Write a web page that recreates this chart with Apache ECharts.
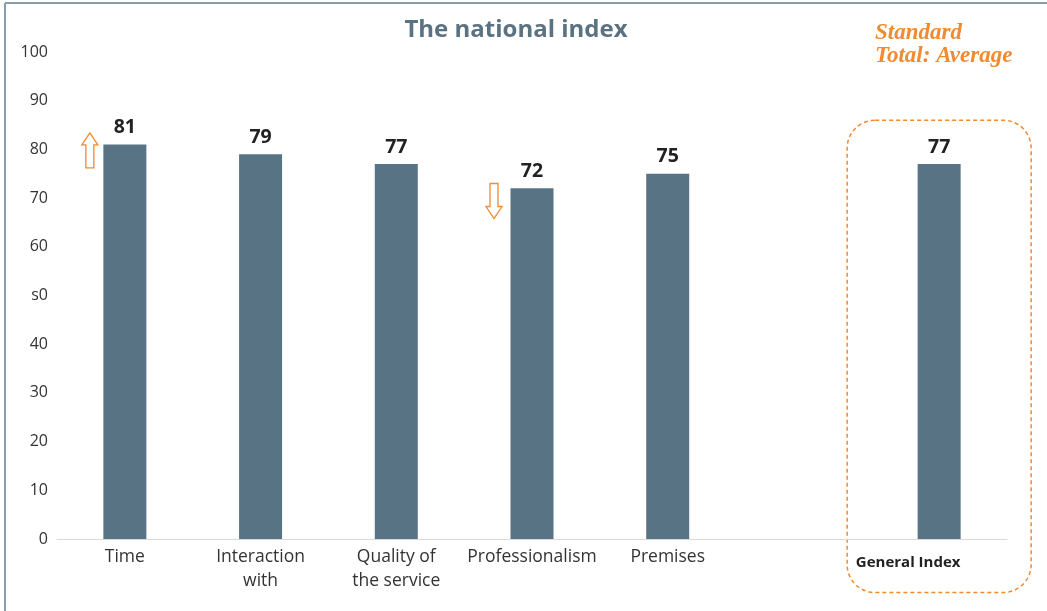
<!DOCTYPE html>
<html>
<head>
<meta charset="utf-8">
<script src="https://cdn.jsdelivr.net/npm/echarts@6/dist/echarts.min.js"></script>
<style>
  html, body { margin: 0; padding: 0; background: #fff; }
  #chart { width: 1047px; height: 611px; }
</style>
</head>
<body>
<div id="chart"></div>
<script>
const categories = ['Time', 'Interaction\nwith', 'Quality of\nthe service', 'Professionalism', 'Premises', '', 'General Index'];
const scores = [81, 79, 77, 72, 75, null, 77];
const tickLabels = ['0', '10', '20', '30', '40', 's0', '60', '70', '80', '90', '100'];
const legendLines = ['Standard', 'Total: Average'];

const BAR = '#587484';
const ORANGE = '#f28a2e';
const FONT = '"Open Sans", "Noto Sans", sans-serif';

const chart = echarts.init(document.getElementById('chart'));

chart.setOption({
  animation: false,
  backgroundColor: '#fff',
  title: {
    text: 'The national index',
    left: 511,
    top: 13,
    textAlign: 'center',
    textStyle: { fontFamily: FONT, fontSize: 24, fontWeight: 'bold', color: '#5b7282' }
  },
  grid: { left: 57, right: 40, top: 52, bottom: 72, containLabel: false },
  xAxis: {
    type: 'category',
    data: categories,
    axisLine: { lineStyle: { color: '#d9d9d9', width: 1 } },
    axisTick: { show: false },
    axisLabel: {
      interval: 0,
      margin: 6,
      color: '#333',
      fontFamily: FONT,
      fontSize: 17.5,
      lineHeight: 24,
      formatter: function (v) {
        return v === 'General Index' ? '{gi|' + v + '}' : v;
      },
      rich: {
        gi: { fontFamily: FONT, fontSize: 15, fontWeight: 'bold', color: '#222', padding: [12, 62, 0, 0] }
      }
    }
  },
  yAxis: {
    type: 'value',
    min: 0,
    max: 100,
    interval: 10,
    axisLine: { show: false },
    axisTick: { show: false },
    splitLine: { show: false },
    axisLabel: {
      margin: 9,
      color: '#333',
      fontFamily: FONT,
      fontSize: 16,
      formatter: function (v) { return tickLabels[Math.round(v / 10)]; }
    }
  },
  series: [{
    type: 'bar',
    data: scores,
    barWidth: 43,
    itemStyle: { color: BAR },
    label: {
      show: true,
      position: 'top',
      distance: 7,
      color: '#222',
      fontFamily: FONT,
      fontSize: 19.5,
      fontWeight: 'bold'
    }
  }]
});

// Hollow arrow outline, tip at top when dir = -1 (up), at bottom when dir = 1 (down)
function arrow(cx, cy, dir) {
  const h = 35, headH = 12, headW = 8, shaftW = 4;
  const tip = cy + dir * h / 2;
  const tail = cy - dir * h / 2;
  const neck = tip - dir * headH;
  return {
    type: 'polygon',
    shape: {
      points: [
        [cx, tip],
        [cx + headW, neck],
        [cx + shaftW, neck],
        [cx + shaftW, tail],
        [cx - shaftW, tail],
        [cx - shaftW, neck],
        [cx - headW, neck]
      ]
    },
    style: { fill: '#fff', stroke: ORANGE, lineWidth: 1.3 }
  };
}

function px(i, v) { return chart.convertToPixel({ gridIndex: 0 }, [i, v]); }

const upPos = px(0, 79.8);
const downPos = px(3, 69.4);
const boxTop = px(6, 86);
const boxBottom = px(6, -11);

chart.setOption({
  graphic: [
    // panel frame (top and left edges)
    { type: 'line', shape: { x1: 5, y1: 3, x2: 1047, y2: 3 }, style: { stroke: '#8a9ca8', lineWidth: 2 } },
    { type: 'line', shape: { x1: 5, y1: 3, x2: 5, y2: 611 }, style: { stroke: '#8a9ca8', lineWidth: 2 } },
    arrow(upPos[0] - 35, upPos[1], -1),
    arrow(downPos[0] - 38, downPos[1], 1),
    {
      type: 'rect',
      shape: { x: boxTop[0] - 92, y: boxTop[1], width: 184, height: boxBottom[1] - boxTop[1], r: 28 },
      style: { fill: 'none', stroke: ORANGE, lineWidth: 1.5, lineDash: [4, 3] }
    },
    {
      type: 'text',
      left: 875,
      top: 22,
      style: {
        text: legendLines.join('\n'),
        fill: ORANGE,
        font: 'italic bold 23px "Liberation Serif", "DejaVu Serif", serif',
        lineHeight: 23
      }
    }
  ]
});
</script>
</body>
</html>
